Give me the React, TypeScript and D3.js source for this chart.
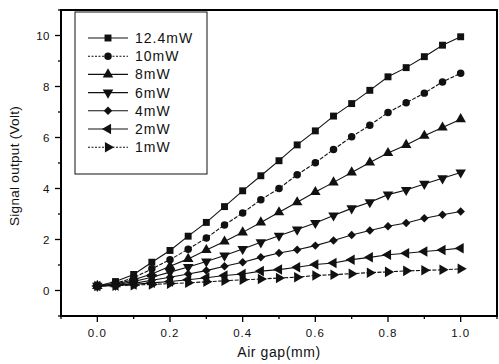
import * as d3 from 'd3';

// air gap in mm
const airGap = [0, 0.05, 0.1, 0.15, 0.2, 0.25, 0.3, 0.35, 0.4, 0.45, 0.5, 0.55, 0.6, 0.65, 0.7, 0.75, 0.8, 0.85, 0.9, 0.95, 1.0];

const p124 = [0.18, 0.35, 0.63, 1.11, 1.57, 2.13, 2.67, 3.29, 3.91, 4.5, 5.09, 5.71, 6.26, 6.84, 7.33, 7.85, 8.38, 8.74, 9.17, 9.62, 9.95];
const p10 = [0.18, 0.28, 0.5, 0.85, 1.21, 1.62, 2.06, 2.57, 3.04, 3.56, 4.0, 4.54, 5.01, 5.53, 6.03, 6.48, 6.98, 7.36, 7.74, 8.18, 8.52];
const p8 = [0.18, 0.25, 0.42, 0.65, 0.95, 1.24, 1.59, 1.92, 2.28, 2.67, 3.07, 3.46, 3.86, 4.24, 4.63, 5.02, 5.39, 5.71, 6.07, 6.39, 6.72];
const p6 = [0.18, 0.22, 0.35, 0.52, 0.72, 0.92, 1.14, 1.37, 1.63, 1.89, 2.15, 2.39, 2.65, 2.94, 3.22, 3.46, 3.76, 3.94, 4.18, 4.4, 4.63];
const p4 = [0.18, 0.2, 0.28, 0.4, 0.52, 0.65, 0.78, 0.95, 1.11, 1.3, 1.47, 1.6, 1.76, 1.96, 2.18, 2.35, 2.52, 2.65, 2.83, 2.97, 3.1];
const p2 = [0.18, 0.2, 0.24, 0.3, 0.35, 0.42, 0.5, 0.59, 0.65, 0.76, 0.82, 0.91, 1.02, 1.08, 1.21, 1.3, 1.4, 1.46, 1.53, 1.59, 1.66];
const p1 = [0.18, 0.19, 0.21, 0.24, 0.27, 0.3, 0.34, 0.38, 0.42, 0.45, 0.49, 0.52, 0.59, 0.62, 0.66, 0.7, 0.73, 0.77, 0.79, 0.81, 0.85];

const labels = ['12.4mW', '10mW', '8mW', '6mW', '4mW', '2mW', '1mW'];
const seriesValues = [p124, p10, p8, p6, p4, p2, p1];
const markers = ['square', 'circle', 'up', 'down', 'diamond', 'left', 'right'];

const xTicks = [0, 0.2, 0.4, 0.6, 0.8, 1.0];
const yTicks = [0, 2, 4, 6, 8, 10];

const W = 499;
const H = 364;
const left = 61, right = 497, top = 10, bottom = 316;
const font = '"Liberation Sans", Arial, sans-serif';

const x = d3.scaleLinear().domain([-0.1, 1.1]).range([left, right]);
const y = d3.scaleLinear().domain([-1, 11]).range([bottom, top]);

function markerPath(kind: string) {
  if (kind === 'square') return d3.symbol(d3.symbolSquare, 48)()!;
  if (kind === 'circle') return d3.symbol(d3.symbolCircle, 44)()!;
  if (kind === 'diamond') return d3.symbol(d3.symbolSquare, 36)()!;
  return d3.symbol(d3.symbolTriangle, 48)()!;
}

function markerRotate(kind: string) {
  if (kind === 'down') return 180;
  if (kind === 'left') return -90;
  if (kind === 'right') return 90;
  if (kind === 'diamond') return 45;
  return 0;
}

function Marker({ kind, cx, cy }: { kind: string; cx: number; cy: number }) {
  return (
    <path
      d={markerPath(kind)}
      transform={`translate(${cx},${cy}) rotate(${markerRotate(kind)})`}
      fill="#111"
    />
  );
}

export default function App() {
  const line = d3
    .line<number>()
    .x((_, i) => x(airGap[i]))
    .y((d) => y(d));

  const xMinor = d3.range(-0.1, 1.11, 0.1).map((v) => +v.toFixed(2));
  const yMinor = d3.range(-1, 11.1, 1);

  return (
    <svg width={W} height={H} style={{ position: 'absolute', left: 0, top: 0, background: '#fff' }} fontFamily={font}>
      {/* series */}
      {seriesValues.map((vals, s) => (
        <g key={labels[s]}>
          <path
            d={line(vals)!}
            fill="none"
            stroke="#111"
            strokeWidth={1.1}
            strokeDasharray={s === 1 || s === 6 ? '4,1.5' : undefined}
          />
          {vals.map((v, i) => (
            <Marker key={i} kind={markers[s]} cx={x(airGap[i])} cy={y(v)} />
          ))}
        </g>
      ))}

      {/* frame */}
      <rect x={left} y={top} width={right - left} height={bottom - top} fill="none" stroke="#000" strokeWidth={2} />

      {/* x ticks */}
      {xMinor.map((v) => {
        const major = xTicks.some((t) => Math.abs(t - v) < 1e-6);
        return (
          <line key={'xm' + v} x1={x(v)} x2={x(v)} y1={bottom} y2={bottom + (major ? 6 : 3)} stroke="#000" strokeWidth={1.3} />
        );
      })}
      {xTicks.map((t) => (
        <text key={'xt' + t} x={x(t)} y={337} textAnchor="middle" fontSize={11.5} letterSpacing={1} fill="#111">
          {d3.format('.1f')(t)}
        </text>
      ))}

      {/* y ticks */}
      {yMinor.map((v) => {
        const major = yTicks.includes(v);
        return (
          <line key={'ym' + v} x1={left - (major ? 6 : 3)} x2={left} y1={y(v)} y2={y(v)} stroke="#000" strokeWidth={1.3} />
        );
      })}
      {yTicks.map((t) => (
        <text key={'yt' + t} x={50} y={y(t) + 4} textAnchor="end" fontSize={11.5} letterSpacing={0.5} fill="#111">
          {t}
        </text>
      ))}

      {/* axis titles */}
      <text x={279} y={357} textAnchor="middle" fontSize={14} letterSpacing={0.6} fill="#111">
        Air gap(mm)
      </text>
      <text
        transform={`translate(19,166) rotate(-90)`}
        textAnchor="middle"
        fontSize={13.5}
        letterSpacing={0.3}
        fill="#111"
      >
        Signal output (Volt)
      </text>

      {/* legend */}
      <rect x={75} y={12} width={132} height={162} fill="#fff" stroke="#111" strokeWidth={1} />
      {labels.map((lab, i) => {
        const ly = 38 + i * 18.2;
        return (
          <g key={'lg' + lab}>
            <line
              x1={88}
              x2={128}
              y1={ly}
              y2={ly}
              stroke="#111"
              strokeWidth={1.1}
              strokeDasharray={i === 1 || i === 6 ? '2,1.5' : undefined}
            />
            <Marker kind={markers[i]} cx={108} cy={ly} />
            <text x={135} y={ly + 5} fontSize={14} letterSpacing={1} fill="#111">
              {lab}
            </text>
          </g>
        );
      })}
    </svg>
  );
}
